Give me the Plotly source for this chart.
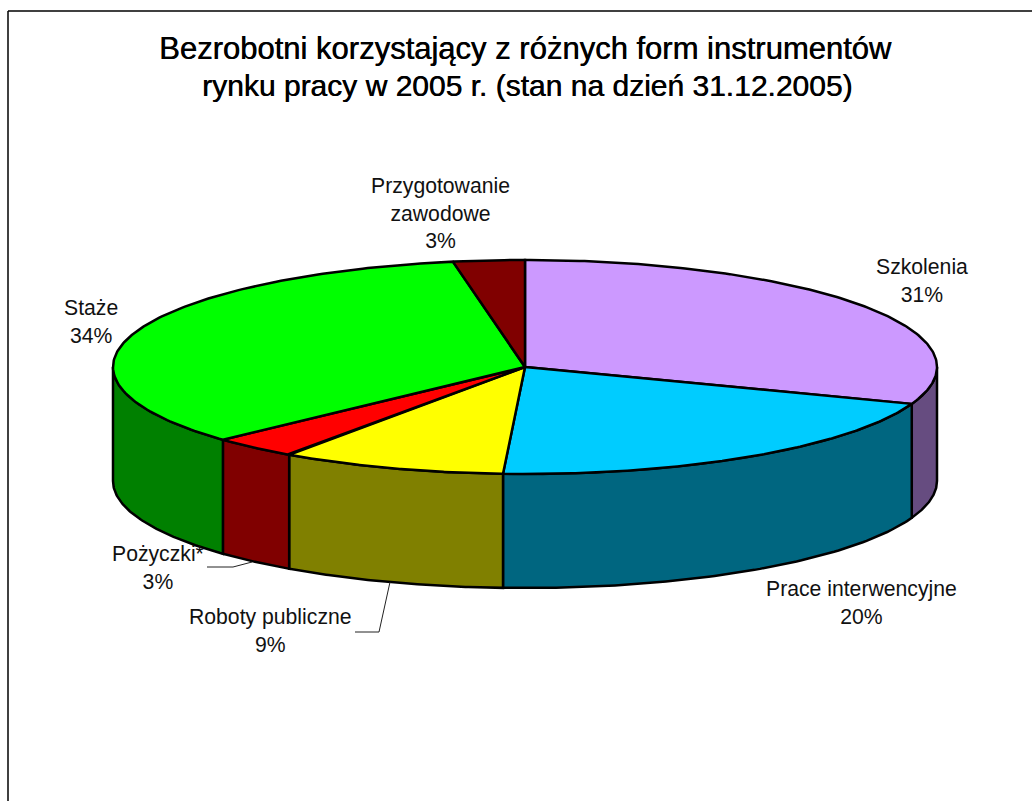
import numpy as np
import plotly.graph_objects as go

# ---- data ----
categories = ["Szkolenia", "Prace interwencyjne", "Roboty publiczne", "Pożyczki*", "Staże", "Przygotowanie<br>zawodowe"]
values = [30.6, 20.25, 8.85, 3.4, 34.1, 2.8]
percent_labels = ["31%", "20%", "9%", "3%", "34%", "3%"]
title_lines = ["Bezrobotni korzystający z różnych form instrumentów",
               "rynku pracy w 2005 r. (stan na dzień 31.12.2005)"]

# ---- styles ----
top_colors = ["#CC99FF", "#00CCFF", "#FFFF00", "#FF0000", "#00FF00", "#800000"]
side_colors = ["#664C80", "#006680", "#808000", "#800000", "#008000", "#400000"]
label_pos = [(922, 280), (861, 602), (270, 630.5), (158, 567), (91, 321), (440, 212.5)]
title_pos = [(525.5, 48), (527, 85)]
title_sizes = [31, 30]

# ---- pie projection (pixel space of the full-page axes) ----
CX, CY, RX, RY, DEPTH = 525, 367, 412, 107, 114
W, H = 1032, 801


def px(t):
    return CX + RX * np.sin(t)


def py(t):
    return CY - RY * np.cos(t)


fig = go.Figure()
line = dict(color="black", width=2.5)


def poly(xs, ys, color):
    fig.add_trace(go.Scatter(x=list(xs), y=list(ys), mode="lines", fill="toself",
                             fillcolor=color, line=line, hoverinfo="skip",
                             showlegend=False))


shares = np.array(values) / sum(values)
edges = np.concatenate([[0], np.cumsum(shares)]) * 2 * np.pi

# side walls: only the front half of the rim is visible
for i in range(len(values)):
    a, b = max(edges[i], np.pi / 2), min(edges[i + 1], 3 * np.pi / 2)
    if b <= a:
        continue
    t = np.linspace(a, b, 80)
    xs = np.concatenate([px(t), px(t[::-1]), [px(a)]])
    ys = np.concatenate([py(t), py(t[::-1]) + DEPTH, [py(a)]])
    poly(xs, ys, side_colors[i])

# top faces
for i in range(len(values)):
    t = np.linspace(edges[i], edges[i + 1], 160)
    xs = np.concatenate([[CX], px(t), [CX]])
    ys = np.concatenate([[CY], py(t), [CY]])
    poly(xs, ys, top_colors[i])

# leader lines
leaders = [([207, 233, 252], [567, 567, 562]), ([355, 379, 390], [632, 632, 582])]
for lx, ly in leaders:
    fig.add_trace(go.Scatter(x=lx, y=ly, mode="lines", line=dict(color="#222222", width=1),
                             hoverinfo="skip", showlegend=False))

# labels
annotations = []
for txt, (tx, ty), size in zip(title_lines, title_pos, title_sizes):
    annotations.append(dict(x=tx, y=ty, text=txt, showarrow=False, xanchor="center", yanchor="middle",
                            font=dict(family="Liberation Sans", size=size, color="black",
                                      shadow="0.5px 0 0 black")))
for name, pct, (lx, ly) in zip(categories, percent_labels, label_pos):
    annotations.append(dict(x=lx, y=ly, text=f"{name}<br>{pct}", showarrow=False,
                            xanchor="center", yanchor="middle",
                            font=dict(family="Liberation Sans", size=21.2, color="#111111")))

shapes = [
    dict(type="line", x0=8, x1=8, y0=11, y1=H, line=dict(color="black", width=1.5)),
    dict(type="line", x0=8, x1=W, y0=11, y1=11, line=dict(color="black", width=1.5)),
]

fig.update_layout(
    width=W, height=H, margin=dict(l=0, r=0, t=0, b=0),
    paper_bgcolor="white", plot_bgcolor="white", showlegend=False,
    xaxis=dict(range=[0, W], visible=False, fixedrange=True),
    yaxis=dict(range=[H, 0], visible=False, fixedrange=True),
    annotations=annotations, shapes=shapes,
)

fig.write_html("out.html", config={"displayModeBar": False},
               post_script="document.body.style.margin='0';document.body.style.overflow='hidden';")
